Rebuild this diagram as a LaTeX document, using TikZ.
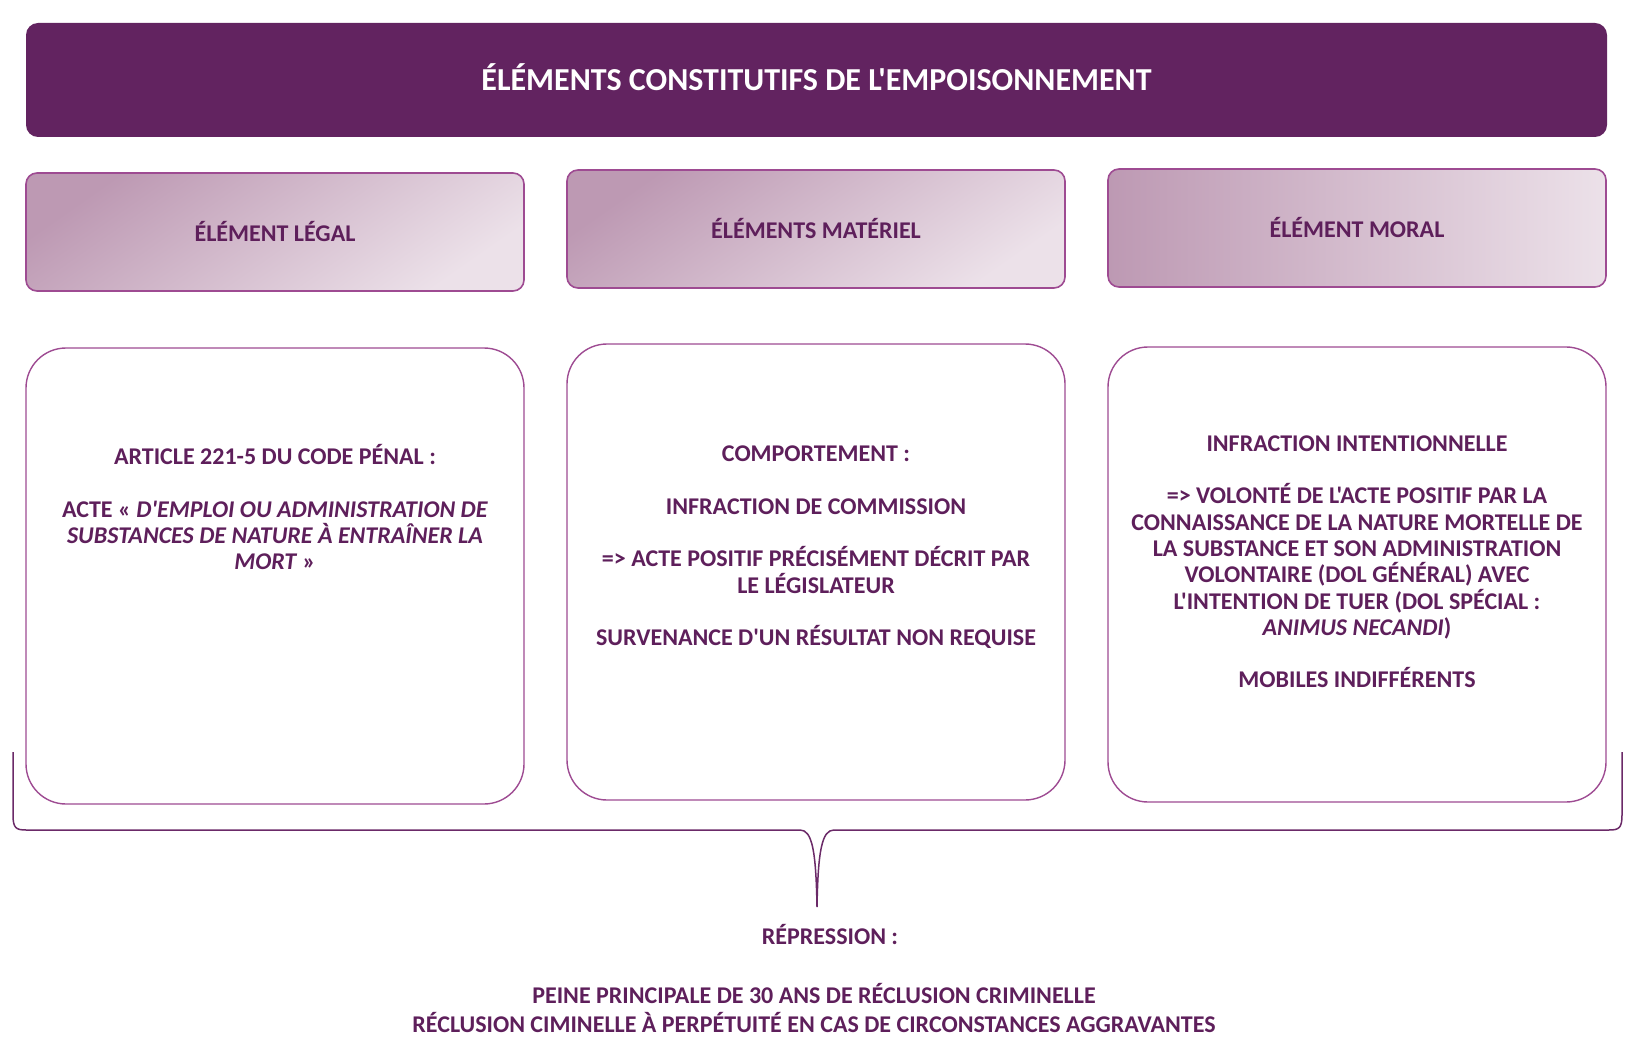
\documentclass[tikz,border=0pt]{standalone}
\usepackage{fontspec}
\setmainfont{Carlito}[Ligatures=TeXOff]
\usetikzlibrary{positioning}
\definecolor{mPlum}{HTML}{622360}
\definecolor{mPlumText}{HTML}{5E1F5B}
\definecolor{mOrchid}{HTML}{9E4B92}
\definecolor{mBrace}{HTML}{6B2A68}
\definecolor{mMauveDark}{HTML}{BD99B3}
\definecolor{mMauveLight}{HTML}{ECE1E9}
\newcommand{\bodyfont}{\fontsize{24}{26.3}\selectfont\bfseries}
\newcommand{\tallstrut}{\rule{0pt}{24pt}}

\begin{document}
\begin{tikzpicture}[x=1pt, y=-1pt,
    titlebox/.style={fill=mPlum, rounded corners=12pt, minimum width=1581pt, minimum height=114pt, text=white, text depth=6pt, font=\fontsize{32}{38}\selectfont\bfseries},
    headbox/.style={draw=mOrchid, line width=1.6pt, rounded corners=11pt, minimum width=498pt, minimum height=118pt, text=mPlumText, text depth=2pt, font=\bodyfont},
    diaghead/.style={headbox, top color=mMauveDark, bottom color=mMauveLight, shading angle=35},
    sidehead/.style={headbox, left color=mMauveDark, right color=mMauveLight},
    contentbox/.style={draw=mOrchid, line width=1.4pt, rounded corners=40pt, minimum width=498pt, minimum height=456pt, fill=white},
    bodytext/.style={text=mPlumText, font=\bodyfont, align=center, inner sep=0pt, anchor=north, execute at begin node=\tallstrut},
    brace/.style={draw=mBrace, line width=1.5pt}]
  \useasboundingbox (0,0) rectangle (1638,1064);

  % title bar
  \node[titlebox] (title) at (816.5,80) {ÉLÉMENTS CONSTITUTIFS DE L'EMPOISONNEMENT};

  % the three headers
  \node[diaghead] (legalhead) at (275,232) {ÉLÉMENT LÉGAL};
  \node[diaghead] (materialhead) at (816,229) {ÉLÉMENTS MATÉRIEL};
  \node[sidehead] (moralhead) at (1357,228) {ÉLÉMENT MORAL};

  % the three content boxes
  \node[contentbox] (legalbox) at (275,576) {};
  \node[contentbox] (materialbox) at (816,572) {};
  \node[contentbox, minimum height=455pt] (moralbox) at (1357,574.5) {};

  \node[bodytext] (legaltext) at ([yshift=-97pt]legalbox.north)
    {ARTICLE 221-5 DU CODE PÉNAL :\\[26.3pt]
     ACTE « \textit{D'EMPLOI OU ADMINISTRATION DE}\\
     \textit{SUBSTANCES DE NATURE À ENTRAÎNER LA}\\
     \textit{MORT} »};
  \node[bodytext] (materialtext) at ([yshift=-102.5pt]materialbox.north)
    {COMPORTEMENT :\\[26.3pt]
     INFRACTION DE COMMISSION\\[26.3pt]
     => ACTE POSITIF PRÉCISÉMENT DÉCRIT PAR\\
     LE LÉGISLATEUR\\[26.3pt]
     SURVENANCE D'UN RÉSULTAT NON REQUISE};
  \node[bodytext] (moraltext) at ([yshift=-89pt]moralbox.north)
    {INFRACTION INTENTIONNELLE\\[26.3pt]
     => VOLONTÉ DE L'ACTE POSITIF PAR LA\\
     CONNAISSANCE DE LA NATURE MORTELLE DE\\
     LA SUBSTANCE ET SON ADMINISTRATION\\
     VOLONTAIRE (DOL GÉNÉRAL) AVEC\\
     L'INTENTION DE TUER (DOL SPÉCIAL :\\
     \textit{ANIMUS NECANDI})\\[26.3pt]
     MOBILES INDIFFÉRENTS};

  % brace gathering the three elements
  \draw[brace] (13,752) -- (13,815) .. controls (13,828) and (16,830) .. (26,830)
    -- (800,830) .. controls (812,830) and (816,850) .. (817,907)
    .. controls (818,850) and (822,830) .. (834,830)
    -- (1609,830) .. controls (1619,830) and (1622,828) .. (1622,815) -- (1622,752);

  % repression
  \node[text=mPlumText, font=\bodyfont] (repression) at (830,934) {RÉPRESSION :};
  \node[text=mPlumText, font=\fontsize{24}{28.5}\selectfont\bfseries, align=center] (penalty) at (814,1008)
    {PEINE PRINCIPALE DE 30 ANS DE RÉCLUSION CRIMINELLE\\
     RÉCLUSION CIMINELLE À PERPÉTUITÉ EN CAS DE CIRCONSTANCES AGGRAVANTES};
\end{tikzpicture}
\end{document}
